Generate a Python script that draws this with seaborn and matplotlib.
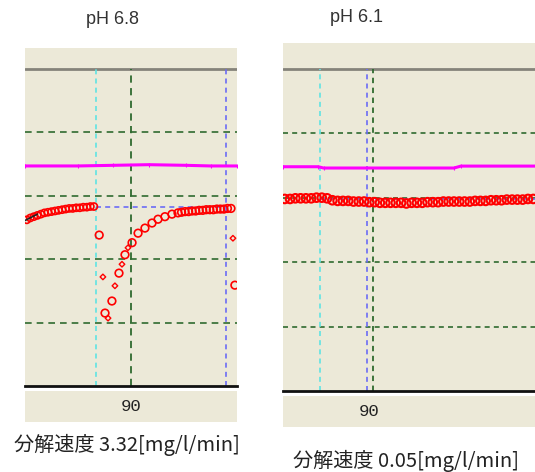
import numpy as np
import pandas as pd
import matplotlib
matplotlib.use("Agg")
import matplotlib.pyplot as plt
import seaborn as sns

# ---- data ----
# pH 6.8 panel
left_pre_x = [31, 33, 35, 37, 39, 41, 43, 45, 47, 49, 51, 53, 55, 57, 59, 61, 63, 65, 67, 69]
left_pre_y = [2.62, 2.65, 2.67, 2.69, 2.71, 2.73, 2.74, 2.75, 2.76, 2.77,
              2.78, 2.79, 2.80, 2.80, 2.81, 2.81, 2.82, 2.82, 2.83, 2.83]
left_rec_x = [72, 75.3, 79.2, 83.2, 86.6, 90.6, 94, 97.9, 101.9, 105.3, 109.2, 113.2, 116.6,
              118.6, 120.6, 122.6, 124.6, 126.6, 128.6, 130.6, 132.6, 134.6, 136.6,
              138.6, 140.6, 142.6, 144.6, 146.6, 148.8]
left_rec_y = [2.38, 1.15, 1.34, 1.78, 2.07, 2.26, 2.41, 2.49, 2.57, 2.63, 2.67, 2.71, 2.73,
              2.74, 2.75, 2.75, 2.76, 2.76, 2.77, 2.77, 2.78, 2.78, 2.78,
              2.79, 2.79, 2.79, 2.80, 2.80, 1.59]
left_small_x = [74.1, 77.0, 80.9, 84.9, 88.3, 147.7]
left_small_y = [1.72, 1.07, 1.58, 1.92, 2.18, 2.33]
left_mag_x = [30, 60, 80, 100, 121, 135, 150]
left_mag_y = [3.47, 3.47, 3.48, 3.49, 3.48, 3.47, 3.47]
left_tan_x = [30, 37]
left_tan_y = [2.61, 2.71]

# pH 6.1 panel
right_x = [42, 45, 48, 51, 54, 57, 60, 63, 66, 69, 72, 75, 78, 81, 84, 87, 90, 93, 96, 99,
           102, 105, 108, 111, 114, 117, 120, 123, 126, 129, 132, 135, 138, 141, 144, 147,
           150, 153, 156, 159, 162, 165, 168, 171, 174, 177, 180, 183]
right_y = [2.98, 2.98, 2.99, 2.99, 2.99, 2.99, 3.00, 3.00, 2.99,
           2.96, 2.95, 2.95, 2.95, 2.94, 2.94,
           2.94, 2.93, 2.93, 2.92, 2.92,
           2.92, 2.92, 2.92, 2.91, 2.92, 2.92, 2.92, 2.93, 2.93,
           2.93, 2.94, 2.94, 2.94, 2.94, 2.94, 2.94, 2.95, 2.95,
           2.95, 2.96, 2.96, 2.96, 2.97, 2.97, 2.97, 2.97, 2.98, 2.98]
right_mag_x = [41, 61, 64, 138, 142, 184]
right_mag_y = [3.48, 3.48, 3.46, 3.46, 3.49, 3.49]

titles = ["pH 6.8", "pH 6.1"]
captions = ["分解速度 3.32[mg/l/min]", "分解速度 0.05[mg/l/min]"]
tick_label = "90"

sns.set_theme(style="white")
plt.rcParams['font.family'] = ['Noto Sans CJK JP', 'DejaVu Sans']

W, H = 535, 472
BEIGE = "#ece9d8"
GREEN = "#2f6a2f"
CYAN = "#5fe3e3"
BLUE = "#6b6bf5"
RED = "#ff0000"
MAG = "#ff00ff"


def box(x0, y0, x1, y1):
    # pixel box -> figure fraction
    return [x0 / W, 1 - y1 / H, (x1 - x0) / W, (y1 - y0) / H]


fig = plt.figure(figsize=(W / 100, H / 100), dpi=100)


def make_panel(rect, strip, xlim, ytop, cyan_x, blue_x, green_x, hline, dash):
    ax = fig.add_axes(box(*rect))
    ax.set_facecolor(BEIGE)
    ax.set_xlim(*xlim)
    ax.set_ylim(0, ytop)
    for s in ["top", "left", "right"]:
        ax.spines[s].set_visible(False)
    ax.spines["bottom"].set_color("#111111")
    ax.spines["bottom"].set_linewidth(2)
    ax.set_xticks([])
    ax.set_yticks([])
    ax.axhline(5, color="#85837a", lw=2)
    for g in [1, 2, 3, 4]:
        ax.axhline(g, color=GREEN, lw=1.2, ls=(0, dash))
    ax.plot([cyan_x, cyan_x], [0, 5], color=CYAN, lw=1.2, ls=(0, (3, 2.5)))
    ax.plot([blue_x, blue_x], [0, 5], color=BLUE, lw=1.2, ls=(0, (3, 2.5)))
    ax.plot([green_x, green_x], [0, 5], color=GREEN, lw=1.3, ls=(0, dash))
    ax.plot(hline[0], hline[1], color=BLUE, lw=1.2, ls=(0, (3, 2.5)))

    sx = fig.add_axes(box(*strip))
    sx.set_facecolor(BEIGE)
    sx.set_xlim(*xlim)
    sx.set_ylim(0, 1)
    sx.set_xticks([])
    sx.set_yticks([])
    for s in sx.spines.values():
        s.set_visible(False)
    return ax, sx


# left panel
ax1, s1 = make_panel((25, 48, 237, 386), (25, 391, 237, 422), (30, 150), 5.33,
                     70, 144, 90, ([70, 144], [2.82, 2.82]), (4, 3))
sns.lineplot(x=left_mag_x, y=left_mag_y, ax=ax1, color=MAG, lw=2.2,
             marker="|", markersize=3, mec=MAG)
sns.scatterplot(x=left_pre_x, y=left_pre_y, ax=ax1, marker="o", s=26,
                facecolor="none", edgecolor=RED, linewidth=1.2, zorder=4)
sns.scatterplot(x=left_rec_x, y=left_rec_y, ax=ax1, marker="o", s=30,
                facecolor="none", edgecolor=RED, linewidth=1.2, zorder=4)
sns.scatterplot(x=left_small_x, y=left_small_y, ax=ax1, marker="D", s=8,
                facecolor="none", edgecolor=RED, linewidth=1.0, zorder=4)
sns.lineplot(x=left_tan_x, y=left_tan_y, ax=ax1, color="#222222", lw=1.2, zorder=5)
s1.text(90, 0.5, tick_label, ha="center", va="center", fontsize=12.5,
        family="Liberation Mono", color="#222222")

# right panel
ax2, s2 = make_panel((283, 43, 535, 391), (283, 396, 535, 427), (41, 184), 5.40,
                     62, 88.5, 92, ([62, 184], [2.98, 2.98]), (3, 2.5))
sns.lineplot(x=right_mag_x, y=right_mag_y, ax=ax2, color=MAG, lw=2.2,
             marker="|", markersize=3, mec=MAG)
sns.scatterplot(x=right_x, y=right_y, ax=ax2, marker="o", s=38,
                facecolor="none", edgecolor=RED, linewidth=1.5, zorder=4)
s2.text(90, 0.5, tick_label, ha="center", va="center", fontsize=12.5,
        family="Liberation Mono", color="#222222")

# titles and captions
fig.text(112 / W, 1 - 20 / H, titles[0], ha="center", va="center", fontsize=13,
         family="Liberation Sans", color="#333333")
fig.text(356 / W, 1 - 17 / H, titles[1], ha="center", va="center", fontsize=13,
         family="Liberation Sans", color="#333333")
fig.text(127 / W, 1 - 445 / H, captions[0], ha="center", va="center", fontsize=14.5,
         color="#222222")
fig.text(406 / W, 1 - 461 / H, captions[1], ha="center", va="center", fontsize=14.5,
         color="#222222")

fig.savefig("out.png", dpi=100)
